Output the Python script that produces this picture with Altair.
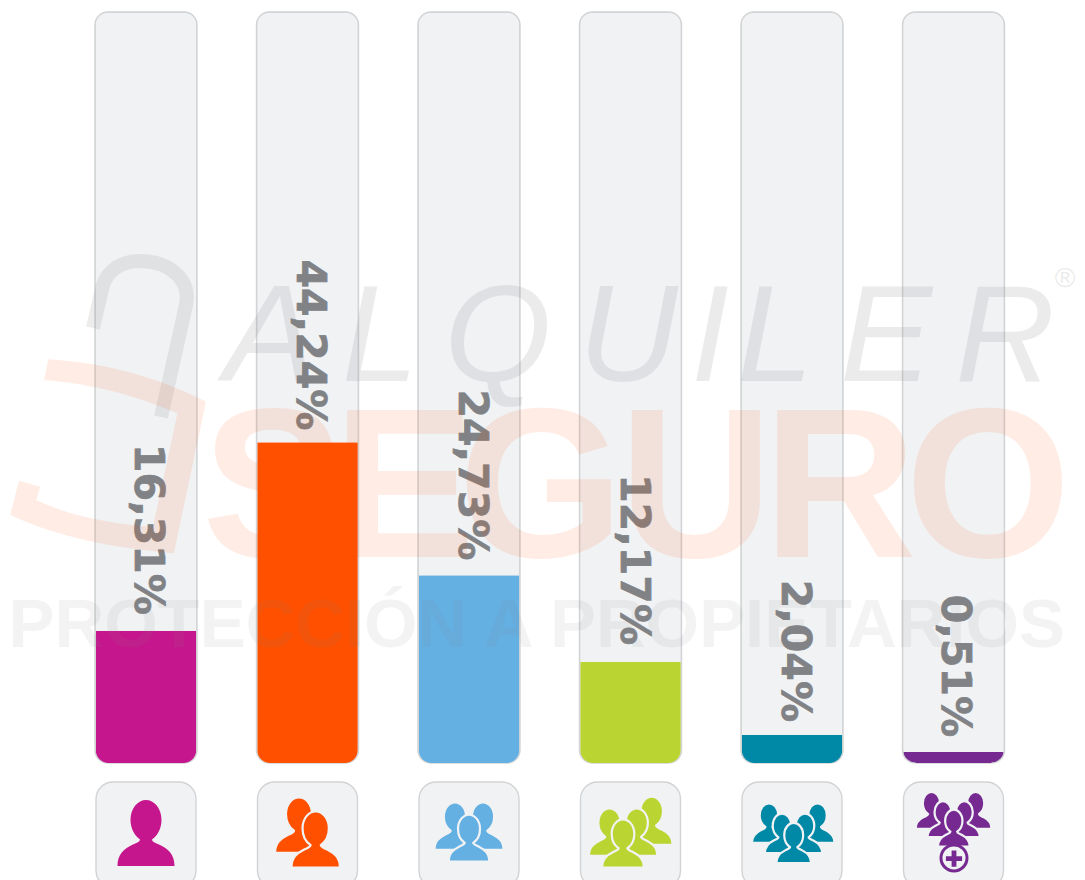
import altair as alt
import pandas as pd

categorias = ["1", "2", "3", "4", "5", "6+"]
etiquetas = ["16,31%", "44,24%", "24,73%", "12,17%", "2,04%", "0,51%"]
nivel = [17.6, 42.7, 25.0, 13.45, 3.73, 1.46]
colores = ["#c6168d", "#ff5000", "#64b0e3", "#bad531", "#0089a7", "#762a91"]

TUBE = "#f1f2f4"
EDGE = "#d1d3d4"
LABEL = "#808285"

xscale = alt.Scale(domain=categorias, range=[87.0, 996.5], paddingInner=0.3684, paddingOuter=0)
yscale = alt.Scale(domain=[0, 100], range=[755, 4], clamp=False)
X = alt.X("cat:N", scale=xscale, axis=None)
df = pd.DataFrame({"cat": categorias, "nivel": nivel, "color": colores, "tope": [100] * 6, "cero": [0] * 6,
                   "caja": [-2.53] * 6, "caja2": [-16.6] * 6, "ancla": [-13.7] * 6, "txt": etiquetas})
colorenc = alt.Color("color:N", scale=None)

layers = []
layers.append(alt.Chart(df).mark_bar(cornerRadius=13, fill=TUBE, stroke=EDGE, strokeWidth=1.4).encode(
    x=X, y=alt.Y("tope:Q", scale=yscale, axis=None)))
layers.append(alt.Chart(df).mark_bar(size=100.6, cornerRadiusBottomLeft=13, cornerRadiusBottomRight=13).encode(
    x=X, y=alt.Y("nivel:Q", scale=yscale, axis=None), color=colorenc))

# bottom corners of the thinnest fill follow the tube's outline
fila = df.iloc[[5]]
Y0 = alt.Y("cero:Q", scale=yscale, axis=None)
layers.append(alt.Chart(fila).mark_point(
    shape="M-52,-13 L-51,-13 A13,13 0 0,0 -38,0 L-38,1 L-52,1 Z M52,-13 L51,-13 A13,13 0 0,1 38,0 L38,1 L52,1 Z",
    filled=True, fill="white", size=4, opacity=1).encode(x=X, y=Y0))
layers.append(alt.Chart(fila).mark_point(
    shape="M-51,-13 A13,13 0 0,0 -38,0 M51,-13 A13,13 0 0,1 38,0",
    filled=False, stroke=EDGE, strokeWidth=1.4, size=4, opacity=1).encode(x=X, y=Y0))

# along = offset along the rotated text (screen y), across = offset across it (screen x)
off = [(-16, 0.5), (-12, 1), (-15, 2), (-17, 3), (-13, 2), (-15, 1)]
for i, (along, across) in enumerate(off):
    layers.append(alt.Chart(df.iloc[[i]]).mark_text(
        angle=90, align="right", baseline="middle", font="DejaVu Sans", fontWeight="bold",
        fontSize=41, fill=LABEL, stroke=LABEL, strokeWidth=0.7, dx=along, dy=-across).encode(
        x=X, y=alt.Y("nivel:Q", scale=yscale, axis=None), text="txt:N"))

layers.append(alt.Chart(df).mark_bar(size=100, cornerRadius=17, fill=TUBE, stroke=EDGE, strokeWidth=1.4).encode(
    x=X, y=alt.Y("caja:Q", scale=yscale, axis=None), y2="caja2:Q"))


def person(cx, cy, s):
    pts = [
        ("M", [(-28.5, 0)]),
        ("C", [(-28.5, -12), (-22, -17), (-14, -21)]),
        ("C", [(-10, -23), (-6, -24), (-6, -26.5)]),
        ("C", [(-11, -30), (-15.5, -37), (-15.5, -46)]),
        ("C", [(-15.5, -58), (-8, -66), (0, -66)]),
        ("C", [(8, -66), (15.5, -58), (15.5, -46)]),
        ("C", [(15.5, -37), (11, -30), (6, -26.5)]),
        ("C", [(6, -24), (10, -23), (14, -21)]),
        ("C", [(22, -17), (28.5, -12), (28.5, 0)]),
    ]
    out = []
    for cmd, ps in pts:
        out.append(cmd + " ".join(f"{cx + s * a:.2f},{cy + s * b:.2f}" for a, b in ps))
    return "".join(out) + "Z"


iconos = [
    [(0, 0, 1.0)],
    [(-8.5, -13, 0.84), (8.2, 1.7, 0.85)],
    [(-14, -16, 0.72), (14, -16, 0.72), (0, -4.3, 0.71)],
    [(21.2, -21, 0.73), (6.2, -10, 0.72), (-21, -10, 0.72), (-7.5, 1.7, 0.73)],
    [(-23, -23, 0.60), (25.5, -23, 0.60), (-10, -12.7, 0.60), (13, -12.7, 0.60), (1.7, -2.7, 0.61)],
    [(-22, -37, 0.56), (22.1, -37, 0.56), (-10.5, -28.7, 0.545), (10.8, -28.7, 0.545), (0.3, -19.3, 0.56)],
]
for i, grupo in enumerate(iconos):
    row = df.iloc[[i]]
    for (ox, oy, s) in grupo:
        layers.append(alt.Chart(row).mark_point(
            shape=person(ox, oy, s), filled=True, fill=colores[i], stroke=TUBE,
            strokeWidth=2.2 if len(grupo) > 1 else 0,
            size=4, opacity=1).encode(x=X, y=alt.Y("ancla:Q", scale=yscale, axis=None)))
row = df.iloc[[5]]
anillo = "M0.5,-21 A13,13 0 1,1 0.49,-21 Z"
cruz = "M-1.9,-15.3 H2.9 V-9.6 H8.6 V-4.8 H2.9 V0.9 H-1.9 V-4.8 H-7.6 V-9.6 H-1.9 Z"
layers.append(alt.Chart(row).mark_point(shape=anillo, filled=True, fill=TUBE, stroke=colores[5], strokeWidth=3,
                                        size=4, opacity=1).encode(x=X, y=alt.Y("ancla:Q", scale=yscale, axis=None)))
layers.append(alt.Chart(row).mark_point(shape=cruz, filled=True, fill=colores[5], size=4, opacity=1).encode(
    x=X, y=alt.Y("ancla:Q", scale=yscale, axis=None)))

# watermark
GRIS = "#808285"
NAR = "#ff5000"
ORIGIN = dict(x=alt.value(-8), y=alt.value(-8))
gancho = ("M48.2,359.3 C103,362 160,378 205.9,401.7 L173.9,553.3 C114,548 57,537 10.3,515 L18.9,480.7 L40.3,486.7 "
          "L36.2,500 C72,517 114,524 152.9,527 L177.4,413.3 C134,395 93,384 44.1,380 Z")
arco = "M93,328 L103,285 C108,270 122,261 139.5,261 C170,261 191,280 186,305 L161,417"
one = pd.DataFrame({"a": [1]})
layers.append(alt.Chart(one).mark_point(shape=arco, filled=False, stroke=GRIS, strokeWidth=14, strokeOpacity=0.15,
                                        size=4, opacity=1).encode(**ORIGIN))
layers.append(alt.Chart(one).mark_point(shape=gancho, filled=True, fill=NAR, fillOpacity=0.1, size=4, opacity=1).encode(**ORIGIN))


def wm(s, px, base, size, fill, op, font="Liberation Sans", bold=False, italic=False):
    return alt.Chart(one).mark_text(
        text=s, font=font, fontSize=size, fontWeight="bold" if bold else "normal",
        fontStyle="italic" if italic else "normal", fill=fill, opacity=op, align="center", baseline="alphabetic"
    ).encode(x=alt.value(px - 8), y=alt.value(base - 8))


for s, px in zip("ALQUILER", [270, 380, 498, 628, 710, 775, 886, 1005]):
    layers.append(wm(s, px, 381, 138, GRIS, 0.15, italic=True))
for s, px in zip("SEGURO", [273, 404, 541, 696, 840, 988]):
    layers.append(wm(s, px, 557, 213, NAR, 0.1, bold=True))
layers.append(wm("PROTECCIÓN A PROPIETARIOS", 536.7, 647, 68.8, GRIS, 0.09, bold=True))
layers.append(wm("®", 1065, 287, 28, GRIS, 0.15))

chart = alt.layer(*layers).properties(
    width=1069, height=872, padding=0, autosize=alt.AutoSizeParams(type="none"),
    background="white",
).configure_view(stroke=None)
chart.save("out.html", embed_options={"renderer": "svg", "actions": False})
